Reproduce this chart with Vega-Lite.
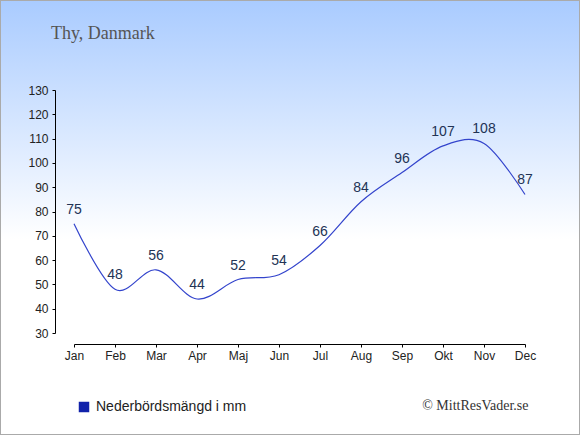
{
  "$schema": "https://vega.github.io/schema/vega-lite/v6.json",
  "width": 580,
  "height": 435,
  "autosize": {"type": "none"},
  "padding": 0,
  "background": "white",
  "title": {
    "text": "Thy, Danmark",
    "frame": "group",
    "anchor": "start",
    "orient": "top",
    "offset": -57,
    "dx": 51,
    "baseline": "alphabetic",
    "font": "Liberation Serif",
    "fontSize": 18,
    "fontWeight": "normal",
    "color": "#555555"
  },
  "config": {
    "view": {
      "fill": {
        "gradient": "linear",
        "x1": 0, "y1": 0, "x2": 0, "y2": 1,
        "stops": [
          {"offset": 0, "color": "#a9cbff"},
          {"offset": 0.55, "color": "#ffffff"},
          {"offset": 1, "color": "#ffffff"}
        ]
      },
      "stroke": "#aaaaaa",
      "strokeWidth": 2
    }
  },
  "data": {
    "values": [
      {"month": "Jan", "mm": 75, "series": "Nederbördsmängd i mm"},
      {"month": "Feb", "mm": 48, "series": "Nederbördsmängd i mm"},
      {"month": "Mar", "mm": 56, "series": "Nederbördsmängd i mm"},
      {"month": "Apr", "mm": 44, "series": "Nederbördsmängd i mm"},
      {"month": "Maj", "mm": 52, "series": "Nederbördsmängd i mm"},
      {"month": "Jun", "mm": 54, "series": "Nederbördsmängd i mm"},
      {"month": "Jul", "mm": 66, "series": "Nederbördsmängd i mm"},
      {"month": "Aug", "mm": 84, "series": "Nederbördsmängd i mm"},
      {"month": "Sep", "mm": 96, "series": "Nederbördsmängd i mm"},
      {"month": "Okt", "mm": 107, "series": "Nederbördsmängd i mm"},
      {"month": "Nov", "mm": 108, "series": "Nederbördsmängd i mm"},
      {"month": "Dec", "mm": 87, "series": "Nederbördsmängd i mm"}
    ]
  },
  "encoding": {
    "x": {
      "field": "month",
      "type": "ordinal",
      "sort": null,
      "scale": {"type": "point", "range": [74, 525], "padding": 0},
      "axis": {
        "orient": "bottom",
        "offset": -91,
        "title": "© MittResVader.se",
        "titleFont": "Liberation Serif",
        "titleFontSize": 14,
        "titleFontWeight": "normal",
        "titleColor": "#333333",
        "titleAnchor": "end",
        "titleAlign": "right",
        "titleBaseline": "alphabetic",
        "titleX": 528,
        "titleY": 65,
        "labelAngle": 0,
        "labelFont": "Liberation Sans",
        "labelFontSize": 12,
        "labelColor": "#222222",
        "labelPadding": 3,
        "tickSize": 3,
        "tickColor": "#000000",
        "domainColor": "#000000",
        "grid": false
      }
    },
    "y": {
      "field": "mm",
      "type": "quantitative",
      "scale": {"domain": [30, 130], "range": [333, 90], "nice": false, "zero": false},
      "axis": {
        "orient": "left",
        "offset": -55,
        "title": null,
        "values": [30, 40, 50, 60, 70, 80, 90, 100, 110, 120, 130],
        "labelFont": "Liberation Sans",
        "labelFontSize": 12,
        "labelColor": "#222222",
        "labelPadding": 4,
        "tickSize": 3,
        "tickColor": "#000000",
        "domainColor": "#000000",
        "grid": false
      }
    }
  },
  "layer": [
    {
      "mark": {"type": "line", "interpolate": "cardinal", "strokeWidth": 1.2},
      "encoding": {
        "color": {
          "field": "series",
          "type": "nominal",
          "scale": {"range": ["#3344cc"]},
          "legend": {
            "orient": "none",
            "legendX": 77,
            "legendY": 400,
            "title": null,
            "symbolType": "square",
            "symbolSize": 110,
            "labelFont": "Liberation Sans",
            "labelFontSize": 14,
            "labelColor": "#222222",
            "labelOffset": 5,
            "encode": {
              "symbols": {
                "update": {
                  "fill": {"value": "#1122aa"},
                  "stroke": {"value": "#1122aa"},
                  "strokeWidth": {"value": 0}
                }
              }
            }
          }
        }
      }
    },
    {
      "mark": {
        "type": "text",
        "baseline": "bottom",
        "dy": -7,
        "font": "Liberation Sans",
        "fontSize": 14,
        "color": "#223355"
      },
      "encoding": {
        "text": {"field": "mm", "type": "quantitative"}
      }
    }
  ]
}
